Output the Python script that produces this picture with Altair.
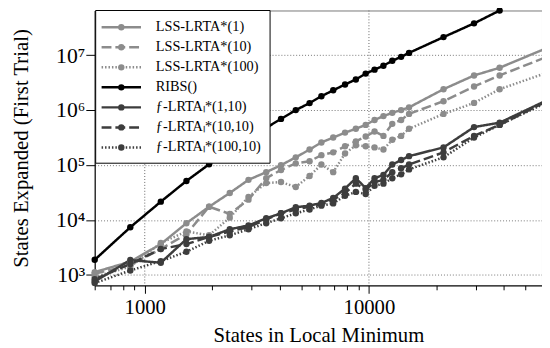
import altair as alt
import pandas as pd

# ---- data ----
states = [598, 862, 1179, 1534, 1936, 2394, 2902, 3481, 4052, 4716, 5435, 6136, 6928,
          7823, 8742, 9672, 10593, 11603, 12707, 13915, 15096, 21510, 29430, 38280, 62220]

lss1 = [1120, 1740, 3630, 8710, 17400, 30900, 53700, 74100, 99100, 138000, 191000, 257000,
        316000, 389000, 457000, 537000, 661000, 776000, 891000, 1000000, 1120000, 2400000,
        4270000, 5890000, 13500000]
lss10 = [1050, 1510, 2950, 5500, 17400, 12900, 23400, 57500, 81300, 107000, 117000, 151000,
         170000, 219000, 269000, 331000, 407000, 339000, 562000, 661000, 851000, 1450000,
         2690000, 4270000, 9330000]
lss100 = [912, 1410, 3800, 6170, 5250, 11000, 26300, 46800, 49000, 39800, 63100, 102000,
          74100, 162000, 229000, 219000, 209000, 191000, 288000, 339000, 457000, 851000,
          1350000, 2400000, 4790000]
ribs = [1880, 7350, 21500, 51200, 103000, 184000, 302000, 476000, 690000, 1000000, 1340000,
        1790000, 2290000, 2930000, 3610000, 4610000, 5450000, 6430000, 7890000, 9310000,
        11000000, 21300000, 37900000, 64900000]
f1 = [759, 1860, 1660, 4470, 4900, 6760, 7940, 10700, 13200, 17000, 18200, 20400, 25100,
      37200, 57500, 38000, 57500, 66100, 102000, 123000, 145000, 209000, 490000, 589000, 1510000]
f10 = [832, 1580, 2950, 3630, 4900, 6170, 7410, 10200, 13200, 15500, 17400, 19100, 23400,
       30900, 45700, 35500, 49000, 53700, 74100, 87100, 102000, 170000, 339000, 537000, 1450000]
f100 = [708, 1200, 1780, 2630, 4170, 5250, 6760, 8710, 10700, 13200, 15500, 18200, 20000,
        27500, 32400, 29500, 41700, 45700, 57500, 67600, 83200, 138000, 316000, 537000, 1380000]

labels = ["LSS-LRTA*(1)", "LSS-LRTA*(10)", "LSS-LRTA*(100)", "RIBS()",
          "ƒ-LRTAₗ*(1,10)", "ƒ-LRTAₗ*(10,10)", "ƒ-LRTAₗ*(100,10)"]
series_values = [lss1, lss10, lss100, ribs, f1, f10, f100]
colors = ["#8c8c8c", "#8c8c8c", "#8c8c8c", "#000000", "#3d3d3d", "#3d3d3d", "#3d3d3d"]
dashes = [[1, 0], [10, 4], [1.5, 2], [1, 0], [1, 0], [10, 4], [1.5, 2]]

x_ticks = [600, 700, 800, 900, 1000, 2000, 3000, 4000, 5000, 6000, 7000, 8000, 9000,
           10000, 20000, 30000, 40000, 50000]
x_major = [1000, 10000]
y_ticks = [1e3, 1e4, 1e5, 1e6, 1e7]

rows = []
for lab, vals in zip(labels, series_values):
    for s, v in zip(states, vals):
        rows.append({"states": s, "expanded": v, "series": lab})
df = pd.DataFrame(rows)
leg = pd.DataFrame({"series": labels})
box_df = pd.DataFrame({"k": [0]})
grid_df = pd.DataFrame({"states": x_major})

FONT = "Liberation Serif"
major = "datum.value == 1000 || datum.value == 10000"

W, H = 454, 279
xscale = alt.Scale(type="log", domain=[598, 59150], nice=False)
yscale = alt.Scale(type="log", domain=[643, 6.5e7], nice=False)
color_scale = alt.Scale(domain=labels, range=colors)
dash_scale = alt.Scale(domain=labels, range=dashes)

x_axis = alt.Axis(
    values=x_ticks,
    labelExpr=f"({major}) ? format(datum.value, 'd') : ''",
    tickSize={"condition": {"test": major, "value": 8}, "value": 4.5},
    grid=False,
    labelPadding=4, titlePadding=7, labelFlush=False, labelOverlap=False,
)
y_axis = alt.Axis(
    values=y_ticks,
    labelExpr="'10' + ['⁰','¹','²','³','⁴','⁵','⁶','⁷','⁸','⁹'][round(log(datum.value)/LN10)]",
    tickSize=9, labelPadding=1, grid=True, labelFontSize=22,
    gridDash=[1, 2], gridColor="#777777", gridWidth=1, titlePadding=25,
)
X_TITLE = "States in Local Minimum"

xgrid = alt.Chart(grid_df).mark_rule(color="#666666", strokeWidth=1, strokeDash=[1, 2]).encode(
    x=alt.X("states:Q", scale=xscale, axis=x_axis, title=X_TITLE),
    y=alt.value(0), y2=alt.value(H),
)

lines = alt.Chart(df).mark_line(
    strokeWidth=2.5, clip=False,
    point=alt.OverlayMarkDef(filled=True, size=42, opacity=1, clip=False),
).encode(
    x=alt.X("states:Q", scale=xscale, axis=x_axis, title=X_TITLE),
    y=alt.Y("expanded:Q", scale=yscale, axis=y_axis, title="States Expanded (First Trial)"),
    color=alt.Color("series:N", scale=color_scale, legend=None),
    strokeDash=alt.StrokeDash("series:N", scale=dash_scale, legend=None),
    order=alt.Order("states:Q"),
)

leg_y = alt.Y("series:N", sort=labels,
              scale=alt.Scale(type="point", domain=labels, range=[17, 139], padding=0),
              axis=None)
box = alt.Chart(box_df).mark_rect(fill="white", stroke="black", strokeWidth=1).encode(
    x=alt.value(1), x2=alt.value(178), y=alt.value(0), y2=alt.value(155))
leg_rules = alt.Chart(leg).mark_rule(strokeWidth=2.5).encode(
    x=alt.value(7), x2=alt.value(47), y=leg_y,
    color=alt.Color("series:N", scale=color_scale, legend=None),
    strokeDash=alt.StrokeDash("series:N", scale=dash_scale, legend=None),
)
leg_pts = alt.Chart(leg).mark_circle(size=42, opacity=1).encode(
    x=alt.value(27), y=leg_y,
    color=alt.Color("series:N", scale=color_scale, legend=None),
)
leg_txt = alt.Chart(leg).mark_text(align="left", baseline="middle", font=FONT,
                                   fontSize=14.5, color="black").encode(
    x=alt.value(62), y=leg_y, text="series:N")

chart = alt.layer(xgrid, lines, box, leg_rules, leg_pts, leg_txt).resolve_scale(
    y="independent"
).properties(
    width=W, height=H,
    padding={"left": 88, "top": 0, "right": 0, "bottom": 60},
    autosize=alt.AutoSizeParams(type="none"),
).configure_view(stroke="#777777", strokeWidth=1).configure_axis(
    labelFont=FONT, titleFont=FONT, labelFontSize=21, titleFontSize=21,
    titleFontWeight="normal", labelColor="black", titleColor="black",
    domainColor="black", tickColor="black", domainWidth=1, tickWidth=1,
)

chart.save("out.html", embed_options={"renderer": "svg", "actions": False})
